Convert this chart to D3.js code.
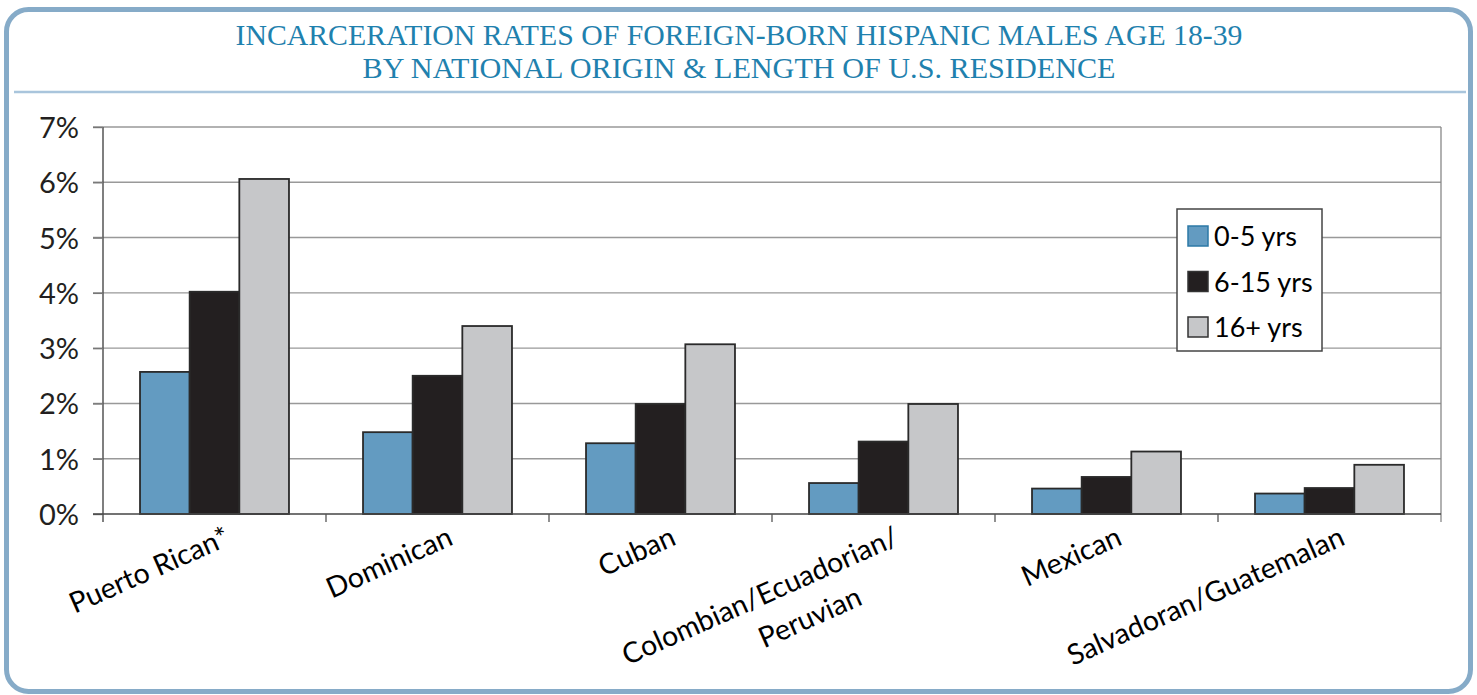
<!DOCTYPE html>
<html>
<head>
<meta charset="utf-8">
<script src="https://cdn.jsdelivr.net/npm/d3@7"></script>
<style>
  html, body { margin: 0; padding: 0; background: #fff; }
  svg { display: block; }
</style>
</head>
<body>
<svg id="chart" width="1477" height="695"></svg>
<script>
// ---- Data ----
const titleLines = [
  "INCARCERATION RATES OF FOREIGN-BORN HISPANIC MALES AGE 18-39",
  "BY NATIONAL ORIGIN & LENGTH OF U.S. RESIDENCE"
];
const categories = ["Puerto Rican*", "Dominican", "Cuban", "Colombian/Ecuadorian/\nPeruvian", "Mexican", "Salvadoran/Guatemalan"];
const seriesNames = ["0-5 yrs", "6-15 yrs", "16+ yrs"];
const values0to5 = [2.57, 1.48, 1.28, 0.56, 0.46, 0.37];
const values6to15 = [4.02, 2.50, 1.99, 1.31, 0.67, 0.47];
const values16plus = [6.06, 3.40, 3.07, 1.99, 1.13, 0.89];
const yTicks = [0, 1, 2, 3, 4, 5, 6, 7];
const colors = ["#639bc1", "#231f20", "#c6c7c9"];

const seriesValues = [values0to5, values6to15, values16plus];

// ---- Layout ----
const svg = d3.select("#chart");
const plot = { left: 103, right: 1441, top: 127, bottom: 514 };
const labelFont = "Lato, 'Open Sans', sans-serif";

// Frame
svg.append("rect")
  .attr("x", 6.5).attr("y", 9.5)
  .attr("width", 1464).attr("height", 682)
  .attr("rx", 22).attr("ry", 22)
  .attr("fill", "#fff")
  .attr("stroke", "#86abc8")
  .attr("stroke-width", 5);

// Title
const titleWidths = [1007, 753];
const titleY = [45, 78];
titleLines.forEach((t, i) => {
  svg.append("text")
    .attr("x", 739).attr("y", titleY[i])
    .attr("text-anchor", "middle")
    .attr("font-family", "'Liberation Serif', 'DejaVu Serif', serif")
    .attr("font-size", 29)
    .attr("fill", "#1f81ae")
    .attr("textLength", titleWidths[i])
    .attr("lengthAdjust", "spacingAndGlyphs")
    .text(t);
});
svg.append("line")
  .attr("x1", 14).attr("x2", 1466)
  .attr("y1", 92).attr("y2", 92)
  .attr("stroke", "#a9c5dc").attr("stroke-width", 2.5);

// Scales
const y = d3.scaleLinear().domain([0, 7]).range([plot.bottom, plot.top]);
const x0 = d3.scaleBand().domain(categories).range([plot.left, plot.right])
  .paddingInner(0.332).paddingOuter(0.166);
const x1 = d3.scaleBand().domain(seriesNames).range([0, x0.bandwidth()]).padding(0);

// Gridlines
svg.append("g").selectAll("line").data(yTicks.filter(d => d > 0)).join("line")
  .attr("x1", plot.left - 10).attr("x2", plot.right)
  .attr("y1", d => y(d)).attr("y2", d => y(d))
  .attr("stroke", "#999").attr("stroke-width", 1.4);

// Right border of plot
svg.append("line")
  .attr("x1", plot.right).attr("x2", plot.right)
  .attr("y1", plot.top).attr("y2", plot.bottom + 8)
  .attr("stroke", "#888").attr("stroke-width", 1.3);

// Y axis
const yAxis = d3.axisLeft(y).tickValues(yTicks).tickFormat(d => d + "%").tickSize(10).tickPadding(14);
const yg = svg.append("g").attr("transform", `translate(${plot.left},0)`).call(yAxis);
yg.select(".domain").attr("stroke", "#555").attr("stroke-width", 1.5).attr("d", `M0,${plot.top}V${plot.bottom + 8}`);
yg.selectAll(".tick line").attr("stroke", "#777").attr("stroke-width", 1.4);
yg.selectAll(".tick text")
  .attr("font-family", labelFont)
  .attr("font-size", 29)
  .attr("fill", "#231f20")
  .attr("dy", "0.36em");

// Bars
const groups = svg.append("g").selectAll("g").data(categories).join("g")
  .attr("transform", d => `translate(${x0(d)},0)`);
groups.selectAll("rect")
  .data((d, i) => seriesNames.map((s, j) => ({ s, v: seriesValues[j][i], j })))
  .join("rect")
  .attr("x", d => x1(d.s))
  .attr("y", d => y(d.v))
  .attr("width", x1.bandwidth())
  .attr("height", d => y(0) - y(d.v))
  .attr("fill", d => colors[d.j])
  .attr("stroke", "#2a2a2a")
  .attr("stroke-width", 1.8);

// X axis line and ticks
const bounds = categories.map(c => x0(c) - x0.step() * x0.paddingInner() / 2);
bounds.push(plot.right);
svg.append("line")
  .attr("x1", plot.left - 10).attr("x2", plot.right)
  .attr("y1", plot.bottom).attr("y2", plot.bottom)
  .attr("stroke", "#444").attr("stroke-width", 1.6);
svg.append("g").selectAll("line").data(bounds.slice(1, -1)).join("line")
  .attr("x1", d => d).attr("x2", d => d)
  .attr("y1", plot.bottom).attr("y2", plot.bottom + 8)
  .attr("stroke", "#555").attr("stroke-width", 1.3);

// X labels (rotated)
const angle = -24;
categories.forEach(c => {
  const cx = x0(c) + x0.bandwidth() / 2;
  const lines = c.split("\n");
  const t = svg.append("text")
    .attr("transform", `translate(${cx + 17},${plot.bottom + 30}) rotate(${angle})`)
    .attr("text-anchor", "end")
    .attr("font-family", labelFont)
    .attr("font-size", 28.5)
    .attr("fill", "#000");
  lines.forEach((ln, k) => {
    t.append("tspan")
      .attr("x", k === 0 ? 0 : -58)
      .attr("dy", k === 0 ? 0 : 40)
      .text(ln);
  });
});

// Legend
const lg = svg.append("g").attr("transform", "translate(1177,209)");
lg.append("rect").attr("width", 145).attr("height", 142)
  .attr("fill", "#fff").attr("stroke", "#444").attr("stroke-width", 1.5);
seriesNames.forEach((s, i) => {
  const cy = 27 + i * 45.5;
  lg.append("rect")
    .attr("x", 11).attr("y", cy - 10).attr("width", 20).attr("height", 20)
    .attr("fill", colors[i]).attr("stroke", i === 0 ? "#2d79a6" : "#333").attr("stroke-width", 1.5);
  lg.append("text")
    .attr("x", 37).attr("y", cy + 10)
    .attr("font-family", labelFont)
    .attr("font-size", 27)
    .attr("fill", "#000")
    .text(s);
});
</script>
</body>
</html>
